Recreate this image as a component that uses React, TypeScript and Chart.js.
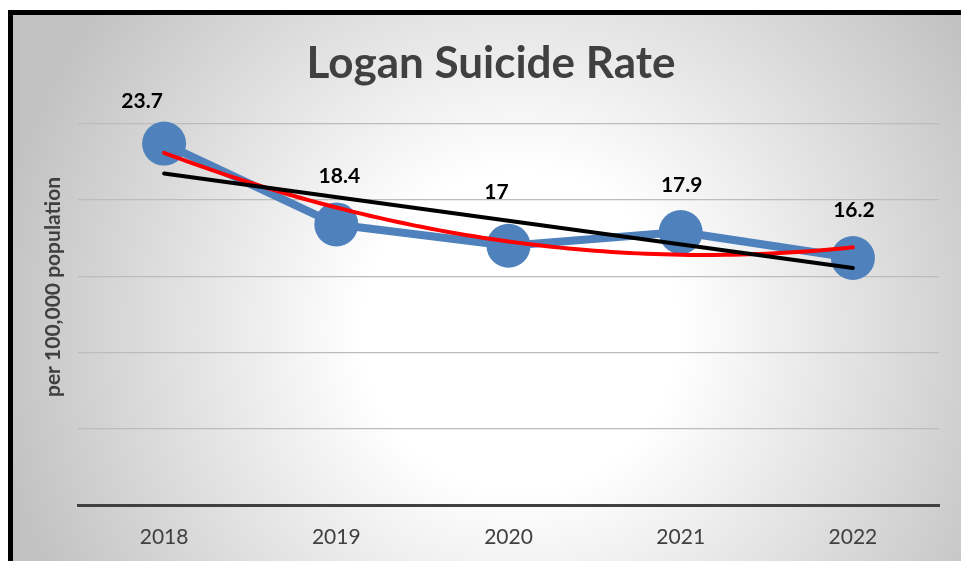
import React, { useEffect, useRef } from "react";
import { Chart, registerables } from "chart.js";

Chart.register(...registerables);

// ---- data ----
const years = ["2018", "2019", "2020", "2021", "2022"];
const rates = [23.7, 18.4, 17, 17.9, 16.2];
const yMin = 0;
const yMax = 25;
const yStep = 5;
const chartTitle = "Logan Suicide Rate";
const yAxisTitle = "per 100,000 population";

// ---- style: label nudges (dx, dy in px from point centre) ----
const labelNudges = [
  [-22, -42],
  [3, -48],
  [-12, -54],
  [1, -47],
  [1, -48],
];
// style: y-axis title anchor (px)
const yTitlePos = { x: 53, y: 287 };

// least-squares polynomial fit of given degree over x = 0..n-1
function polyFit(ys: number[], degree: number): number[] {
  const n = degree + 1;
  const A: number[][] = [];
  for (let r = 0; r < n; r++) {
    const row: number[] = [];
    for (let c = 0; c < n; c++) {
      let s = 0;
      ys.forEach((_, i) => (s += Math.pow(i, r + c)));
      row.push(s);
    }
    let b = 0;
    ys.forEach((y, i) => (b += y * Math.pow(i, r)));
    row.push(b);
    A.push(row);
  }
  for (let p = 0; p < n; p++) {
    let best = p;
    for (let r = p + 1; r < n; r++) if (Math.abs(A[r][p]) > Math.abs(A[best][p])) best = r;
    [A[p], A[best]] = [A[best], A[p]];
    for (let r = 0; r < n; r++) {
      if (r === p) continue;
      const f = A[r][p] / A[p][p];
      for (let c = p; c <= n; c++) A[r][c] -= f * A[p][c];
    }
  }
  return A.map((row, i) => row[n] / row[i]);
}
const evalPoly = (coef: number[], x: number) =>
  coef.reduce((s, c, i) => s + c * Math.pow(x, i), 0);

const FONT = "Lato, 'Open Sans', sans-serif";

export default function App() {
  const ref = useRef<HTMLCanvasElement | null>(null);

  useEffect(() => {
    document.body.style.margin = "0";
    const canvas = ref.current;
    if (!canvas) return;

    const linCoef = polyFit(rates, 1);
    const quadCoef = polyFit(rates, 2);
    const last = rates.length - 1;
    const linData = [0, last].map((x) => ({ x, y: evalPoly(linCoef, x) }));
    const quadData: { x: number; y: number }[] = [];
    for (let k = 0; k <= last * 20; k++) {
      const x = k / 20;
      quadData.push({ x, y: evalPoly(quadCoef, x) });
    }

    const bgPlugin = {
      id: "bgFrame",
      beforeDraw(chart: any) {
        const { ctx, width, height } = chart;
        ctx.save();
        ctx.fillStyle = "#ffffff";
        ctx.fillRect(0, 0, width, height);
        const g = ctx.createRadialGradient(520, 330, 0, 520, 330, 530);
        g.addColorStop(0, "#ffffff");
        g.addColorStop(0.3, "#ffffff");
        g.addColorStop(1, "#c2c2c2");
        ctx.fillStyle = g;
        ctx.fillRect(8, 10, width - 8, height - 10);
        ctx.fillStyle = "#000000";
        ctx.fillRect(8, 10, 5, height - 10);
        ctx.fillRect(8, 10, width - 8, 5);
        // y-axis title
        ctx.translate(yTitlePos.x, yTitlePos.y);
        ctx.rotate(-Math.PI / 2);
        ctx.font = `bold 21px ${FONT}`;
        ctx.fillStyle = "#404040";
        ctx.textAlign = "center";
        ctx.textBaseline = "middle";
        ctx.fillText(yAxisTitle, 0, 0);
        ctx.restore();
      },
    };

    const labelPlugin = {
      id: "valueLabels",
      afterDatasetsDraw(chart: any) {
        const { ctx } = chart;
        const meta = chart.getDatasetMeta(0);
        ctx.save();
        ctx.font = `bold 21px ${FONT}`;
        ctx.fillStyle = "#000000";
        ctx.textAlign = "center";
        ctx.textBaseline = "middle";
        meta.data.forEach((pt: any, i: number) => {
          const [dx, dy] = labelNudges[i] || [0, -48];
          ctx.fillText(String(rates[i]), pt.x + dx, pt.y + dy);
        });
        ctx.restore();
      },
    };

    const chart = new Chart(canvas, {
      type: "line",
      data: {
        datasets: [
          {
            label: "Rate",
            data: rates.map((y, x) => ({ x, y })),
            borderColor: "#4f81bd",
            backgroundColor: "#4f81bd",
            borderWidth: 8,
            pointRadius: 22,
            pointHoverRadius: 22,
            pointBorderWidth: 0,
            pointBackgroundColor: "#4f81bd",
            borderJoinStyle: "round",
            tension: 0,
            clip: false,
            order: 3,
          } as any,
          {
            label: "Poly trend",
            data: quadData,
            borderColor: "#ff0000",
            borderWidth: 4,
            pointRadius: 0,
            borderCapStyle: "round",
            tension: 0,
            clip: false,
            order: 2,
          } as any,
          {
            label: "Linear trend",
            data: linData,
            borderColor: "#000000",
            borderWidth: 4,
            pointRadius: 0,
            borderCapStyle: "round",
            tension: 0,
            clip: false,
            order: 1,
          } as any,
        ],
      },
      options: {
        responsive: false,
        animation: false,
        events: [],
        layout: { padding: { left: 40, right: 19, top: 0, bottom: 0 } },
        plugins: {
          legend: { display: false },
          tooltip: { enabled: false },
          title: {
            display: true,
            text: chartTitle,
            color: "#404040",
            font: { family: FONT, size: 44, weight: "bold" },
            padding: { top: 37, bottom: 34 },
          },
        },
        scales: {
          x: {
            type: "linear",
            min: -0.5,
            max: years.length - 0.5,
            afterBuildTicks: (s: any) => {
              s.ticks = years.map((_, i) => ({ value: i }));
            },
            ticks: {
              callback: (v: any) => years[v] ?? "",
              color: "#404040",
              font: { family: FONT, size: 21 },
              padding: 20,
              maxRotation: 0,
              autoSkip: false,
            },
            grid: { display: false, drawTicks: false },
            border: { display: true, color: "#404040", width: 3 },
            afterFit: (s: any) => {
              s.height = 56;
            },
          },
          y: {
            min: yMin,
            max: yMax,
            ticks: { display: false, stepSize: yStep },
            grid: {
              color: (c: any) => (c.tick && c.tick.value === yMin ? "rgba(0,0,0,0)" : "#bcbcbc"),
              lineWidth: 1.3,
              drawTicks: false,
            },
            border: { display: false },
            title: { display: false },
            afterFit: (s: any) => {
              s.width = 38;
            },
          },
        },
      } as any,
      plugins: [bgPlugin, labelPlugin],
    });

    return () => chart.destroy();
  }, []);

  return (
    <div style={{ position: "absolute", left: 0, top: 0, width: 961, height: 561 }}>
      <canvas ref={ref} width={961} height={561} />
    </div>
  );
}
